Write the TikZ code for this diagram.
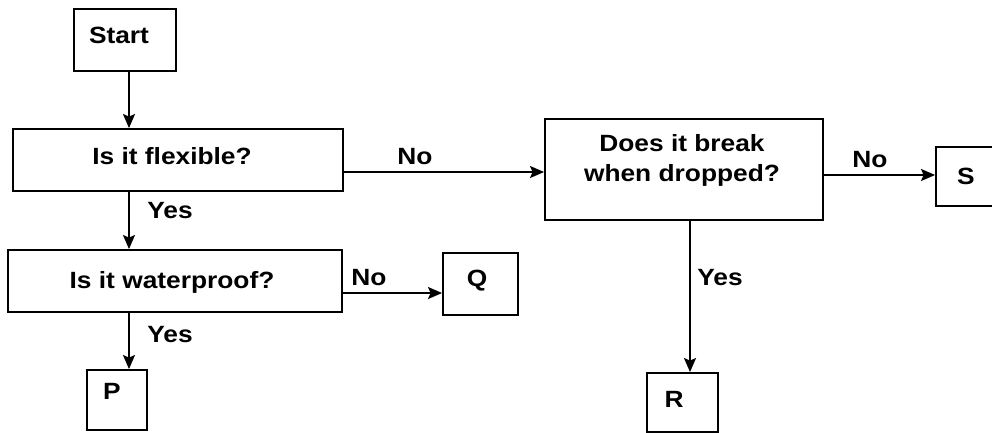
\documentclass[tikz,border=0pt]{standalone}
\usepackage{fontspec}
\setmainfont{Liberation Sans}
\usetikzlibrary{arrows.meta}
\newcommand{\tx}[1]{\scalebox{1.12}[1]{#1}}
\begin{document}
\begin{tikzpicture}[x=1pt,y=-1pt,
  box/.style={draw, line width=1.9pt, inner sep=0pt},
  lbl/.style={inner sep=0pt, font=\bfseries\fontsize{23.5}{30}\selectfont},
  arr/.style={line width=1.8pt, -{Stealth[length=14pt,width=12pt,inset=2.5pt]}}]
\useasboundingbox (0,0) rectangle (992,432);
\clip (0,0) rectangle (992,432);
% boxes
\node[box, minimum width=102pt, minimum height=62pt] (start) at (125,40) {};
\node[box, minimum width=330pt, minimum height=62pt] (flex) at (178,160) {};
\node[box, minimum width=334pt, minimum height=62pt] (wp) at (175,281) {};
\node[box, minimum width=60pt, minimum height=60pt] (P) at (117,400) {};
\node[box, minimum width=75pt, minimum height=62pt] (Q) at (480.5,284) {};
\node[box, minimum width=278pt, minimum height=101pt] (brk) at (684,169.5) {};
\node[box, minimum width=64pt, minimum height=59pt] (S) at (968,176.5) {};
\node[box, minimum width=71pt, minimum height=59pt] (R) at (682.5,402.5) {};
% box texts
\node[lbl] (starttxt) at (119,35) {\tx{Start}};
\node[lbl] (flextxt) at (172,156) {\tx{Is it flexible?}};
\node[lbl] (wptxt) at (172,282) {\tx{Is it waterproof?}};
\node[lbl] (Ptxt) at (112,391) {\tx{P}};
\node[lbl] (Qtxt) at (477,281) {\tx{Q}};
\node[lbl, align=center] (brktxt) at (682,160) {\tx{Does it break}\\\tx{when dropped?}};
\node[lbl] (Stxt) at (966,176) {\tx{S}};
\node[lbl] (Rtxt) at (674,399) {\tx{R}};
% connectors
\coordinate (cx) at (129,0);
\draw[arr] (cx |- start.south) -- (cx |- flex.north);
\draw[arr] (cx |- flex.south) -- (cx |- wp.north);
\draw[arr] (cx |- wp.south) -- (cx |- P.north);
\draw[arr] ([yshift=-12pt]flex.east) -- ([yshift=-12pt]flex.east -| brk.west);
\draw[arr] ([yshift=-12pt]wp.east) -- ([yshift=-12pt]wp.east -| Q.west);
\draw[arr] ([yshift=-5.5pt]brk.east) -- ([yshift=-5.5pt]brk.east -| S.west);
\draw[arr] ([xshift=6pt]brk.south) -- ([xshift=6pt]brk.south |- R.north);
% labels
\node[lbl] (no1) at (415,157) {\tx{No}};
\node[lbl] (yes1) at (170,211) {\tx{Yes}};
\node[lbl] (yes2) at (170,335) {\tx{Yes}};
\node[lbl] (no2) at (369,278) {\tx{No}};
\node[lbl] (no3) at (870,160) {\tx{No}};
\node[lbl] (yes3) at (720,278) {\tx{Yes}};
\end{tikzpicture}
\end{document}
